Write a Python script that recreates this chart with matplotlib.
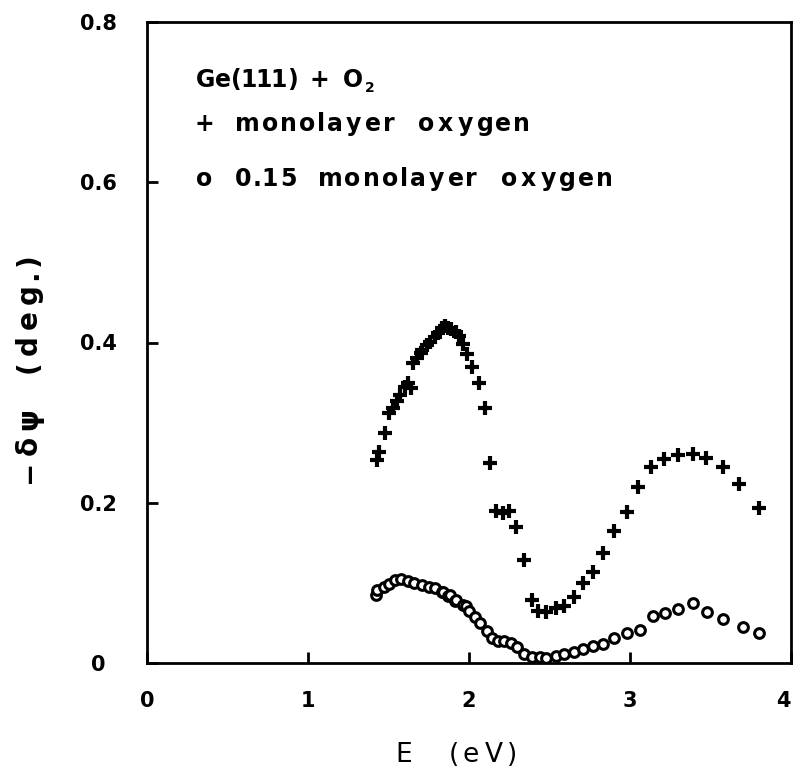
import numpy as np
import matplotlib
matplotlib.use("Agg")
import matplotlib.pyplot as plt
from matplotlib.textpath import TextPath
from matplotlib.font_manager import FontProperties

# monolayer oxygen (+)
e_mono = [1.43, 1.44, 1.48, 1.50, 1.53, 1.55, 1.57, 1.60, 1.62, 1.64, 1.65, 1.68,
          1.70, 1.71, 1.74, 1.76, 1.79, 1.81, 1.83, 1.85, 1.87, 1.89, 1.92, 1.94,
          1.96, 1.99, 2.02, 2.06, 2.10, 2.13, 2.17, 2.21, 2.25, 2.29, 2.34, 2.39,
          2.43, 2.48, 2.54, 2.59, 2.65, 2.71, 2.77, 2.83, 2.90, 2.98, 3.05, 3.13,
          3.21, 3.30, 3.39, 3.47, 3.58, 3.68, 3.80]
d_mono = [0.253, 0.263, 0.287, 0.312, 0.318, 0.327, 0.335, 0.345, 0.350, 0.343, 0.374, 0.381,
          0.387, 0.391, 0.397, 0.401, 0.407, 0.412, 0.418, 0.420, 0.418, 0.417, 0.413, 0.408,
          0.398, 0.386, 0.370, 0.350, 0.318, 0.250, 0.190, 0.187, 0.190, 0.170, 0.128, 0.079,
          0.065, 0.064, 0.069, 0.071, 0.082, 0.100, 0.114, 0.137, 0.165, 0.189, 0.220, 0.245,
          0.255, 0.260, 0.261, 0.256, 0.245, 0.223, 0.194]

# 0.15 monolayer oxygen (o)
e_frac = [1.42, 1.43, 1.47, 1.50, 1.54, 1.58, 1.62, 1.66, 1.71, 1.75, 1.79, 1.83,
          1.84, 1.87, 1.88, 1.91, 1.92, 1.96, 1.98, 2.00, 2.04, 2.07, 2.11, 2.14,
          2.18, 2.22, 2.26, 2.30, 2.34, 2.39, 2.44, 2.48, 2.54, 2.59, 2.65, 2.71,
          2.77, 2.83, 2.90, 2.98, 3.06, 3.14, 3.22, 3.30, 3.39, 3.48, 3.58, 3.70, 3.80]
d_frac = [0.085, 0.091, 0.095, 0.099, 0.104, 0.105, 0.102, 0.100, 0.097, 0.095, 0.094, 0.089,
          0.088, 0.083, 0.085, 0.077, 0.079, 0.072, 0.071, 0.065, 0.058, 0.050, 0.040, 0.031,
          0.027, 0.027, 0.025, 0.020, 0.011, 0.007, 0.007, 0.006, 0.009, 0.011, 0.014, 0.017,
          0.021, 0.024, 0.031, 0.038, 0.041, 0.059, 0.062, 0.067, 0.075, 0.064, 0.055, 0.045, 0.037]

xticks = [0, 1, 2, 3, 4]
yticks = [0, 0.2, 0.4, 0.6, 0.8]
ytick_labels = ['0', '0.2', '0.4', '0.6', '0.8']
legend_lines = ["Ge(111) + O", "+ monolayer oxygen", "o 0.15 monolayer oxygen"]
xlabel = "E (eV)"
ylabel = "\u2212\u03b4\u03c8 (deg.)"

W, H, DPI = 795, 774, 100
fig = plt.figure(figsize=(W / DPI, H / DPI), dpi=DPI)
ax = fig.add_axes([147 / W, 1 - 663 / H, 644 / W, 641 / H])


def spaced(x, y, s, size, gap, space, weight='bold', vertical=False):
    # plotter-like lettering: each glyph advanced by its ink width plus a gap
    fp = FontProperties(family='DejaVu Sans', weight=weight, size=size)
    k = DPI / 72.0
    pos = x if not vertical else y
    for ch in s:
        if ch == ' ':
            pos += space if not vertical else -space
            continue
        ext = TextPath((0, 0), ch, size=size, prop=fp).get_extents()
        w = max(ext.width, 1) * k
        if vertical:
            o = pos + ext.x0 * k
            fig.text(x / W, 1 - o / H, ch, fontproperties=fp, rotation=90,
                     rotation_mode='anchor', ha='left', va='baseline')
            pos -= w + gap
        else:
            o = pos - ext.x0 * k
            fig.text(o / W, 1 - y / H, ch, fontproperties=fp,
                     ha='left', va='baseline')
            pos += w + gap
    return pos


ax.plot(e_mono, d_mono, linestyle='none', marker='+', markersize=10,
        color='black', markeredgewidth=3)
ax.plot(e_frac, d_frac, linestyle='none', marker='o', markersize=7,
        markerfacecolor='white', markeredgecolor='black', markeredgewidth=2.2)

ax.set_xlim(0, 4)
ax.set_ylim(0, 0.8)
ax.set_xticks(xticks)
ax.set_xticklabels([str(v) for v in xticks])
ax.set_yticks(yticks)
ax.set_yticklabels(ytick_labels)
ax.tick_params(direction='in', length=8, width=2, labelsize=15)
ax.tick_params(axis='x', pad=20)
ax.tick_params(axis='y', pad=35)
for lab in ax.get_xticklabels() + ax.get_yticklabels():
    lab.set_fontweight('bold')
for lab in ax.get_yticklabels():
    lab.set_horizontalalignment('center')
ax.get_xticklabels()[-1].set_horizontalalignment('right')
for s in ax.spines.values():
    s.set_linewidth(2)

# legend block
end = spaced(197, 87, legend_lines[0], 17, 3, 14)
spaced(end + 1, 92, "2", 10, 0, 0)
spaced(197, 131, legend_lines[1], 17, 5, 20)
spaced(197, 186, legend_lines[2], 17, 5, 20)

# axis titles
spaced(398, 762, xlabel, 19, 7, 34, weight='normal')
spaced(37, 480, ylabel, 20, 9, 30, vertical=True)

fig.savefig('out.png', dpi=DPI)
